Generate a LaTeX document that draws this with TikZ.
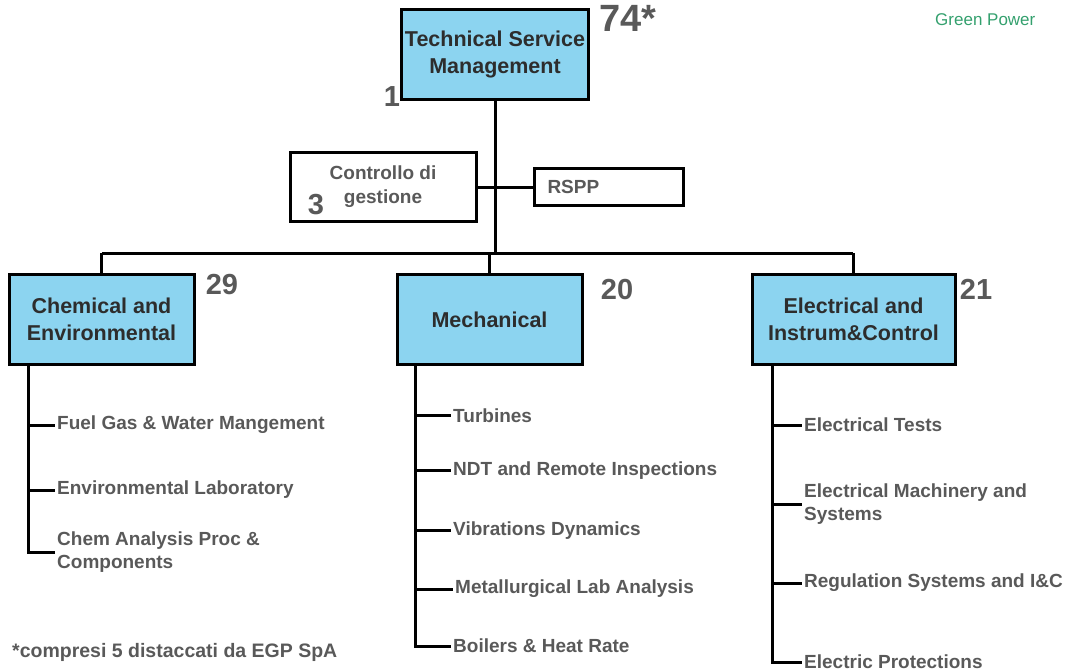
\documentclass[tikz,border=0pt]{standalone}
\usepackage{fontspec}
\setmainfont{Liberation Sans}
\usetikzlibrary{positioning}
\definecolor{boxblue}{RGB}{140,212,240}
\definecolor{txtgray}{RGB}{89,89,89}
\definecolor{darktxt}{RGB}{45,45,45}
\definecolor{egpgreen}{RGB}{52,160,110}

\begin{document}
\begin{tikzpicture}[x=1pt, y=-1pt,
    unitbox/.style={draw, line width=3pt, fill=boxblue, minimum height=90pt, align=center, text=darktxt, font=\fontsize{21.5}{27}\selectfont\bfseries},
    staffbox/.style={draw, line width=3pt, fill=white, text=txtgray, font=\fontsize{19}{24}\selectfont\bfseries},
    headcount/.style={text=txtgray, inner sep=0pt, font=\fontsize{29}{30}\selectfont\bfseries},
    item/.style={anchor=west, inner xsep=2pt, inner ysep=0pt, align=left, text=txtgray, font=\fontsize{19}{23}\selectfont\bfseries},
    conn/.style={line width=3pt}]
    \useasboundingbox (0,0) rectangle (1074,672);

    \node (tsm) [unitbox, minimum width=184pt, minimum height=90pt] at (495,54) {Technical Service\\Management};
    \node (ctrl) [staffbox, minimum width=186pt, minimum height=69pt, align=center] at (383,187) {Controllo di\\gestione};
    \node (rspp) [staffbox, minimum height=37pt, inner xsep=13.5pt, text width=122pt, align=left] at (608.5,186.5) {RSPP};
    \node (chem) [unitbox, minimum width=185pt] at (101.5,319.5) {Chemical and\\Environmental};
    \node (mech) [unitbox, minimum width=185pt] at (489.5,319.5) {Mechanical};
    \node (elec) [unitbox, minimum width=203pt] at (853.5,319.5) {Electrical and\\Instrum\&Control};

    \node (n74) [headcount, font=\fontsize{38}{40}\selectfont\bfseries, anchor=west] at (599,18) {74*};
    \node (n1) [headcount] at (392,97) {1};
    \node (n3) [headcount] at (316,205) {3};
    \node (n29) [headcount] at (222,285) {29};
    \node (n20) [headcount] at (617,290) {20};
    \node (n21) [headcount] at (976,289) {21};

    \node (fuel) [item] at (55,425) {Fuel Gas \& Water Mangement};
    \node (envlab) [item] at (55,490) {Environmental Laboratory};
    \node (chemproc) [item] at (55,552) {Chem Analysis Proc \&\\Components};

    \node (turb) [item] at (451,415.5) {Turbines};
    \node (ndt) [item] at (451,470.5) {NDT and Remote Inspections};
    \node (vib) [item] at (451,530.5) {Vibrations Dynamics};
    \node (metal) [item] at (453,589) {Metallurgical Lab Analysis};
    \node (boil) [item] at (451,646) {Boilers \& Heat Rate};

    \node (eltest) [item] at (802,425) {Electrical Tests};
    \node (elmach) [item] at (802,504) {Electrical Machinery and\\Systems};
    \node (regsys) [item] at (802,583) {Regulation Systems and I\&C};
    \node (elprot) [item] at (802,662) {Electric Protections};

    \node (brand) [anchor=west, text=egpgreen, inner sep=0pt, font=\fontsize{17}{20}\selectfont] at (935,20) {Green Power};
    \node (note) [anchor=west, text=txtgray, inner sep=0pt, font=\fontsize{19.5}{22}\selectfont\bfseries] at (12,652) {*compresi 5 distaccati da EGP SpA};

    % main tree
    \coordinate (busL) at (102,253);
    \coordinate (busR) at (853,253);
    \draw[conn] (tsm.south) -- (tsm.south |- busL);
    \draw[conn] (busL) -- (busR);
    \draw[conn] (chem.north) -- (chem.north |- busL);
    \draw[conn] (mech.north) -- (mech.north |- busL);
    \draw[conn] (elec.north) -- (elec.north |- busL);
    \draw[conn] (ctrl.east) -- (ctrl.east -| rspp.west);

    % sub units
    \coordinate (chemspine) at (28,366);
    \coordinate (mechspine) at (415,366);
    \coordinate (elecspine) at (772,366);
    \draw[conn] (chemspine) |- (chemproc.west);
    \foreach \sub in {fuel,envlab}
        \draw[conn] (chemspine |- \sub.west) -- (\sub.west);
    \draw[conn] (mechspine) |- (boil.west);
    \foreach \sub in {turb,ndt,vib,metal}
        \draw[conn] (mechspine |- \sub.west) -- (\sub.west);
    \draw[conn] (elecspine) |- (elprot.west);
    \foreach \sub in {eltest,elmach,regsys}
        \draw[conn] (elecspine |- \sub.west) -- (\sub.west);
\end{tikzpicture}
\end{document}
